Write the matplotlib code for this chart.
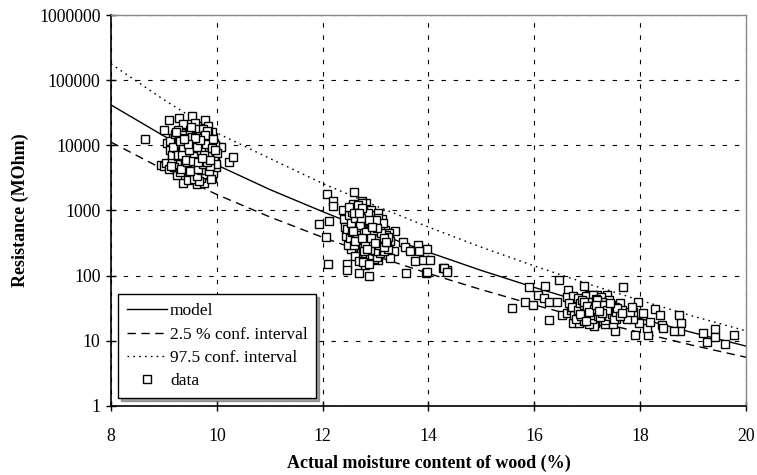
import numpy as np
import matplotlib.pyplot as plt

plt.rcParams['font.family'] = ['Liberation Serif', 'DejaVu Serif']

# curves at whole moisture contents
mc_curve = [8, 9, 10, 11, 12, 13, 14, 15, 16, 17, 18, 19, 20]
model = [41700, 13900, 5000, 2100, 960, 456, 229, 120, 66, 37.6, 22, 13.3, 8.3]
low_ci = [11200, 4240, 1760, 798, 387, 200, 108, 61, 35.6, 21.5, 13.4, 8.5, 5.6]
high_ci = [178000, 50000, 15500, 6300, 2600, 1180, 557, 273, 141, 75.5, 41.8, 23.9, 14.2]

# measured points, cluster around 9.5 %
x1 = [8.64, 10.23, 10.31, 8.94, 9.0, 9.04, 9.53, 9.10, 9.29, 9.78, 9.84, 9.91, 9.0, 10.03, 10.08,
      9.36, 9.63, 9.76, 9.91, 9.06, 9.18, 9.25,
      9.25, 9.30, 9.32, 9.35, 9.38, 9.40, 9.42, 9.45, 9.47, 9.48, 9.50, 9.52, 9.53, 9.55, 9.57, 9.58,
      9.60, 9.60, 9.62, 9.63, 9.65, 9.66, 9.68, 9.70, 9.70, 9.72, 9.73, 9.75, 9.76, 9.78, 9.80, 9.82,
      9.83, 9.85, 9.86, 9.88, 9.90, 9.92, 9.93, 9.95, 9.28, 9.22, 9.20, 9.24, 9.33, 9.36, 9.44, 9.46,
      9.56, 9.59, 9.64, 9.67, 9.71, 9.74, 9.79, 9.81, 9.84, 9.87, 9.89, 9.94, 9.97, 9.99, 10.0, 9.15,
      9.12, 9.10, 9.18, 9.26, 9.41, 9.51, 9.54, 9.61, 9.69, 9.77, 9.39]
y1 = [12600, 5560, 6600, 5000, 4900, 5400, 28000, 24500, 26000, 24500, 20000, 16000, 17000, 9500, 9500,
      2600, 2550, 2650, 3150, 11000, 6600, 4200,
      14000, 9000, 6000, 4000, 11000, 18000, 7500, 5000, 3300, 13000, 9500, 6500, 4500, 16000, 11000, 8000,
      3800, 5500, 20000, 12500, 7000, 9800, 4800, 3200, 15000, 6000, 8500, 11500, 5000, 3600, 7200, 9000,
      13500, 4200, 6200, 10500, 5300, 7800, 3700, 8200, 5200, 7800, 10000, 3500, 15500, 21000, 12000, 2900,
      3000, 22000, 17500, 2800, 10000, 18000, 12000, 4600, 15500, 8000, 3000, 11000, 6500, 4600, 7500, 6000,
      8500, 4300, 13000, 17000, 8500, 7000, 10500, 6200, 7500, 9500, 5800]
x1b = [9.12, 9.16, 9.19, 9.21, 9.23, 9.27, 9.29, 9.31, 9.34, 9.37, 9.39, 9.43, 9.45, 9.49, 9.51, 9.53,
       9.56, 9.58, 9.61, 9.63, 9.66, 9.68, 9.71, 9.73, 9.76, 9.79, 9.81, 9.84, 9.86, 9.89, 9.91, 9.94,
       9.96, 9.98, 9.14, 9.18, 9.22, 9.26, 9.30, 9.33, 9.36, 9.40, 9.44, 9.47, 9.50, 9.54, 9.57, 9.60,
       9.64, 9.67, 9.70, 9.74, 9.77, 9.80, 9.83, 9.87, 9.90, 9.93, 9.97, 9.35, 9.42, 9.48, 9.55, 9.62,
       9.69, 9.75, 9.82, 9.88, 9.52, 9.58, 9.65, 9.72, 9.46, 9.38]
y1b = [11500, 7000, 4600, 15000, 9000, 6800, 12000, 3900, 8300, 14500, 4700, 9800, 6300, 17000, 4100, 12000,
       8800, 5400, 14000, 3400, 10500, 6700, 4200, 12800, 8000, 5800, 16500, 7000, 4100, 12500, 9000, 5800,
       10000, 5200, 4800, 9500, 16000, 7200, 11500, 4400, 8800, 13000, 5600, 9200, 4100, 13500, 6800, 10000,
       4300, 13000, 8200, 5200, 14500, 10500, 6800, 4800, 9000, 12500, 8500, 7000, 6000, 8500, 5800, 9500,
       12000, 7000, 5500, 6000, 19000, 13000, 5600, 6400, 10500, 12500]

# cluster around 12.8 %
x2 = [12.08, 12.59, 12.20, 12.20, 11.93, 12.06, 12.12, 12.10, 12.46, 12.46, 12.69, 12.88, 12.80, 12.74,
      12.82, 13.37, 13.52, 13.56, 13.65, 13.80, 13.97, 13.82, 13.90, 13.75, 14.03, 13.58, 13.95, 14.28,
      14.35, 13.35, 13.27, 13.05, 13.97, 14.30, 14.35,
      12.45, 12.48, 12.50, 12.52, 12.55, 12.57, 12.60, 12.62, 12.63, 12.65, 12.67, 12.68, 12.70, 12.72,
      12.73, 12.75, 12.77, 12.78, 12.80, 12.80, 12.82, 12.83, 12.85, 12.86, 12.88, 12.89, 12.90, 12.92,
      12.93, 12.95, 12.96, 12.97, 12.98, 13.00, 13.01, 13.03, 13.04, 13.06, 13.08, 13.10, 13.11, 13.13,
      13.15, 13.17, 13.20, 13.22, 13.25, 13.28, 12.40, 12.42, 12.38, 12.58, 12.66, 12.74, 12.84, 12.91,
      12.99, 13.05, 13.12, 12.53, 12.61, 12.69, 12.76, 12.87, 12.94, 13.02, 13.09, 13.16, 13.24, 12.71,
      12.79, 12.81, 12.87, 12.93, 13.07, 12.64, 12.56, 12.44, 12.47]
y2 = [1800, 1930, 1420, 1170, 620, 394, 700, 151, 151, 123, 110, 100, 148, 1420,
      1320, 490, 330, 275, 240, 295, 255, 240, 174, 170, 174, 110, 110, 132,
      123, 240, 186, 174, 115, 132, 115,
      900, 650, 480, 1100, 350, 800, 550, 420, 1000, 280, 700, 480, 350, 900,
      250, 600, 430, 320, 1050, 220, 750, 520, 380, 290, 880, 200, 620, 450,
      330, 260, 800, 180, 540, 400, 300, 680, 230, 480, 350, 270, 580, 420,
      320, 500, 380, 280, 450, 340, 750, 560, 1000, 1250, 1150, 1300, 950, 1000,
      850, 900, 750, 260, 200, 170, 160, 150, 210, 190, 220, 240, 260, 450,
      620, 390, 560, 700, 610, 600, 700, 400, 300]
x2b = [12.46, 12.49, 12.51, 12.54, 12.56, 12.59, 12.61, 12.64, 12.66, 12.69, 12.71, 12.74, 12.76, 12.79,
       12.81, 12.84, 12.86, 12.89, 12.91, 12.94, 12.96, 12.99, 13.01, 13.04, 13.06, 13.09, 13.11, 13.14,
       13.16, 13.19, 13.21, 13.24, 12.50, 12.55, 12.60, 12.65, 12.70, 12.75, 12.80, 12.85, 12.90, 12.95,
       13.00, 13.05, 13.10, 13.15, 13.20, 12.62, 12.72, 12.82, 12.92, 13.02, 12.68, 12.78, 12.88, 12.98,
       12.58, 12.84, 12.74, 12.94]
y2b = [520, 850, 380, 640, 950, 300, 760, 480, 1200, 360, 560, 820, 270, 480,
       680, 330, 900, 420, 550, 300, 640, 240, 460, 780, 300, 520, 350, 640,
       280, 420, 330, 390, 1150, 470, 920, 380, 600, 1100, 310, 680, 250, 480,
       720, 360, 450, 380, 330, 340, 780, 460, 380, 530, 900, 240, 720, 320,
       480, 260, 380, 560]

# cluster around 17 %
x3 = [15.90, 16.2, 16.47, 16.94, 16.64, 16.07, 16.19, 16.28, 16.43, 16.62, 16.73, 15.83, 15.98, 15.58,
      16.28, 16.53, 16.62, 16.73, 16.85, 17.68, 17.96, 18.28, 18.38, 18.74, 18.78, 18.76, 18.63, 19.19,
      19.27, 19.42, 19.42, 19.61, 19.78, 17.53, 17.9, 18.15, 18.42, 18.44, 18.13, 18.19, 17.98, 17.87,
      18.06, 17.87, 17.62, 17.38, 17.19, 17.04, 17.24, 17.34,
      16.80, 16.85, 16.88, 16.90, 16.92, 16.95, 16.98, 17.00, 17.02, 17.05, 17.07, 17.08, 17.10, 17.12,
      17.14, 17.15, 17.17, 17.19, 17.20, 17.22, 17.24, 17.25, 17.27, 17.29, 17.30, 17.32, 17.34, 17.36,
      17.38, 17.40, 17.42, 17.45, 17.47, 17.50, 17.52, 17.55, 17.58, 17.60, 17.65, 17.70, 16.70, 16.75,
      16.65, 16.72, 16.78, 16.82, 16.97, 17.11, 17.26, 17.41, 17.13, 17.03, 17.33, 17.48, 16.93, 17.75,
      17.80, 17.85]
y3 = [68, 70, 87, 70, 60, 51, 46, 40, 40, 47, 48, 40, 35, 32,
      21, 25, 27, 19, 19, 68, 40, 31, 25, 25, 19, 14, 14, 13,
      9.6, 15, 11.5, 8.9, 12.3, 14, 12.3, 12.3, 17.6, 16, 16, 19.5, 19, 22,
      27, 28, 38, 51, 51, 51, 21, 19,
      35, 28, 42, 22, 32, 25, 38, 30, 20, 45, 27, 34, 23, 40,
      29, 19, 36, 26, 31, 22, 43, 28, 33, 20, 38, 25, 30, 23,
      35, 27, 32, 21, 29, 25, 33, 22, 28, 24, 30, 26, 30, 25,
      38, 33, 22, 46, 48, 50, 47, 42, 17, 18, 18, 18, 20, 22,
      28, 33]
x3b = [16.82, 16.86, 16.89, 16.91, 16.94, 16.96, 16.99, 17.01, 17.04, 17.06, 17.09, 17.11, 17.14, 17.16,
       17.18, 17.21, 17.23, 17.26, 17.28, 17.31, 17.33, 17.35, 17.37, 17.39, 17.41, 17.44, 17.46, 17.49,
       17.51, 17.54, 17.57, 17.62, 17.66, 16.87, 16.93, 17.00, 17.06, 17.13, 17.19, 17.25, 17.31, 17.37,
       17.43, 17.03, 17.16, 17.28, 16.98, 17.22]
y3b = [30, 38, 24, 43, 33, 27, 36, 24, 31, 40, 22, 34, 27, 44,
       31, 24, 35, 26, 40, 30, 21, 35, 27, 31, 24, 36, 26, 31,
       22, 28, 32, 24, 27, 26, 40, 34, 25, 31, 42, 23, 36, 30,
       38, 28, 35, 27, 20, 29]

x_data = x1 + x1b + x2 + x2b + x3 + x3b
y_data = y1 + y1b + y2 + y2b + y3 + y3b

fig = plt.figure(figsize=(7.57, 4.75), dpi=100)
ax = fig.add_axes([0.1466, 0.1453, 0.8389, 0.8231])

ax.plot(mc_curve, model, color='black', lw=1.0, label='model')
ax.plot(mc_curve, low_ci, color='black', lw=1.0, dashes=(6, 4), label='2.5 % conf. interval')
ax.plot(mc_curve, high_ci, color='black', lw=1.0, dashes=(1.2, 3), label='97.5 conf. interval')
ax.plot(x_data, y_data, ls='none', marker='s', ms=5.3, mfc='white', mec='black', mew=1.0, label='data')

ax.set_yscale('log')
ax.set_xlim(8, 20)
ax.set_ylim(1, 1000000)
ax.set_xticks([8, 10, 12, 14, 16, 18, 20])
ax.set_yticks([1, 10, 100, 1000, 10000, 100000, 1000000])
ax.set_yticklabels(['1', '10', '100', '1000', '10000', '100000', '1000000'])
ax.minorticks_off()
ax.tick_params(direction='inout', length=7, width=1, labelsize=12.8, pad=4)
ax.tick_params(axis='x', pad=12)
ax.grid(True, color='black', lw=0.8, dashes=(4, 7))

for s in ['top', 'right']:
    ax.spines[s].set_color('#888888')
    ax.spines[s].set_linewidth(1)
for s in ['left', 'bottom']:
    ax.spines[s].set_linewidth(1.2)

ax.set_xlabel('Actual moisture content of wood (%)', fontsize=13, fontweight='bold', labelpad=7)
ax.set_ylabel('Resistance (MOhm)', fontsize=13, fontweight='bold', labelpad=7)

leg = ax.legend(loc='lower left', bbox_to_anchor=(0.011, 0.02), fontsize=12.5, fancybox=False,
                shadow=True, framealpha=1, edgecolor='black', borderpad=0.5, labelspacing=0.42,
                handlelength=2.3, handletextpad=0.2, borderaxespad=0)
leg.get_frame().set_linewidth(1)

fig.savefig('out.png', dpi=100)
